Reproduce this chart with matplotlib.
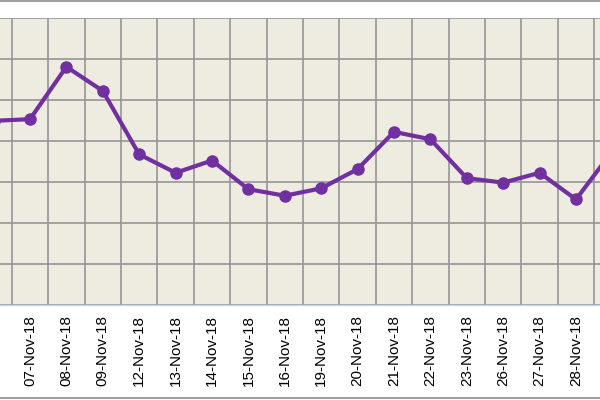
import matplotlib
matplotlib.use("Agg")
import matplotlib.pyplot as plt
from matplotlib.ticker import MultipleLocator, FixedLocator
from matplotlib.lines import Line2D

dates = ["06-Nov-18", "07-Nov-18", "08-Nov-18", "09-Nov-18", "12-Nov-18", "13-Nov-18",
         "14-Nov-18", "15-Nov-18", "16-Nov-18", "19-Nov-18", "20-Nov-18", "21-Nov-18",
         "22-Nov-18", "23-Nov-18", "26-Nov-18", "27-Nov-18", "28-Nov-18", "29-Nov-18"]
values = [45.0, 45.4, 58.2, 52.3, 36.8, 32.3, 35.3, 28.3, 26.7, 28.5, 33.2, 42.3,
          40.5, 31.0, 29.9, 32.3, 25.8, 37.6]

fig = plt.figure(figsize=(6, 4), dpi=100)
fig.patch.set_facecolor("white")
ax = fig.add_axes([0.0, 0.2375, 1.0, 0.71625])
ax.set_facecolor("#eeebe0")

x = list(range(len(dates)))
ax.plot(x, values, color="#7030a0", linewidth=3, marker="o", markersize=8,
        markerfacecolor="#7030a0", markeredgecolor="#7030a0", zorder=3)

ax.set_xlim(0.176, 16.66)
ax.set_ylim(0, 70)
ax.yaxis.set_major_locator(MultipleLocator(10))
ax.xaxis.set_major_locator(FixedLocator(x))
ax.set_xticklabels(dates, rotation=90, fontsize=11, family="Liberation Sans")
ax.xaxis.set_minor_locator(FixedLocator([i + 0.5 for i in range(-1, len(dates))]))
ax.tick_params(axis="x", which="both", length=0, pad=7)
ax.tick_params(axis="y", which="both", length=0, labelleft=False)
ax.grid(True, axis="x", which="minor", color="#959595", linewidth=1.2)
ax.grid(True, axis="y", which="major", color="#959595", linewidth=1.2)
ax.grid(False, axis="x", which="major")
ax.set_axisbelow(True)
for s in ["top", "left", "right"]:
    ax.spines[s].set_visible(False)
ax.spines["bottom"].set_color("#c8d8e8")
ax.spines["bottom"].set_linewidth(1)

# chart border lines (top and bottom)
fig.add_artist(Line2D([0, 1], [0.998, 0.998], transform=fig.transFigure, color="#a0a0a0", linewidth=1.5))
fig.add_artist(Line2D([0, 1], [0.004, 0.004], transform=fig.transFigure, color="#a0a0a0", linewidth=1.5))

fig.savefig("out.png", dpi=100, facecolor="white")
